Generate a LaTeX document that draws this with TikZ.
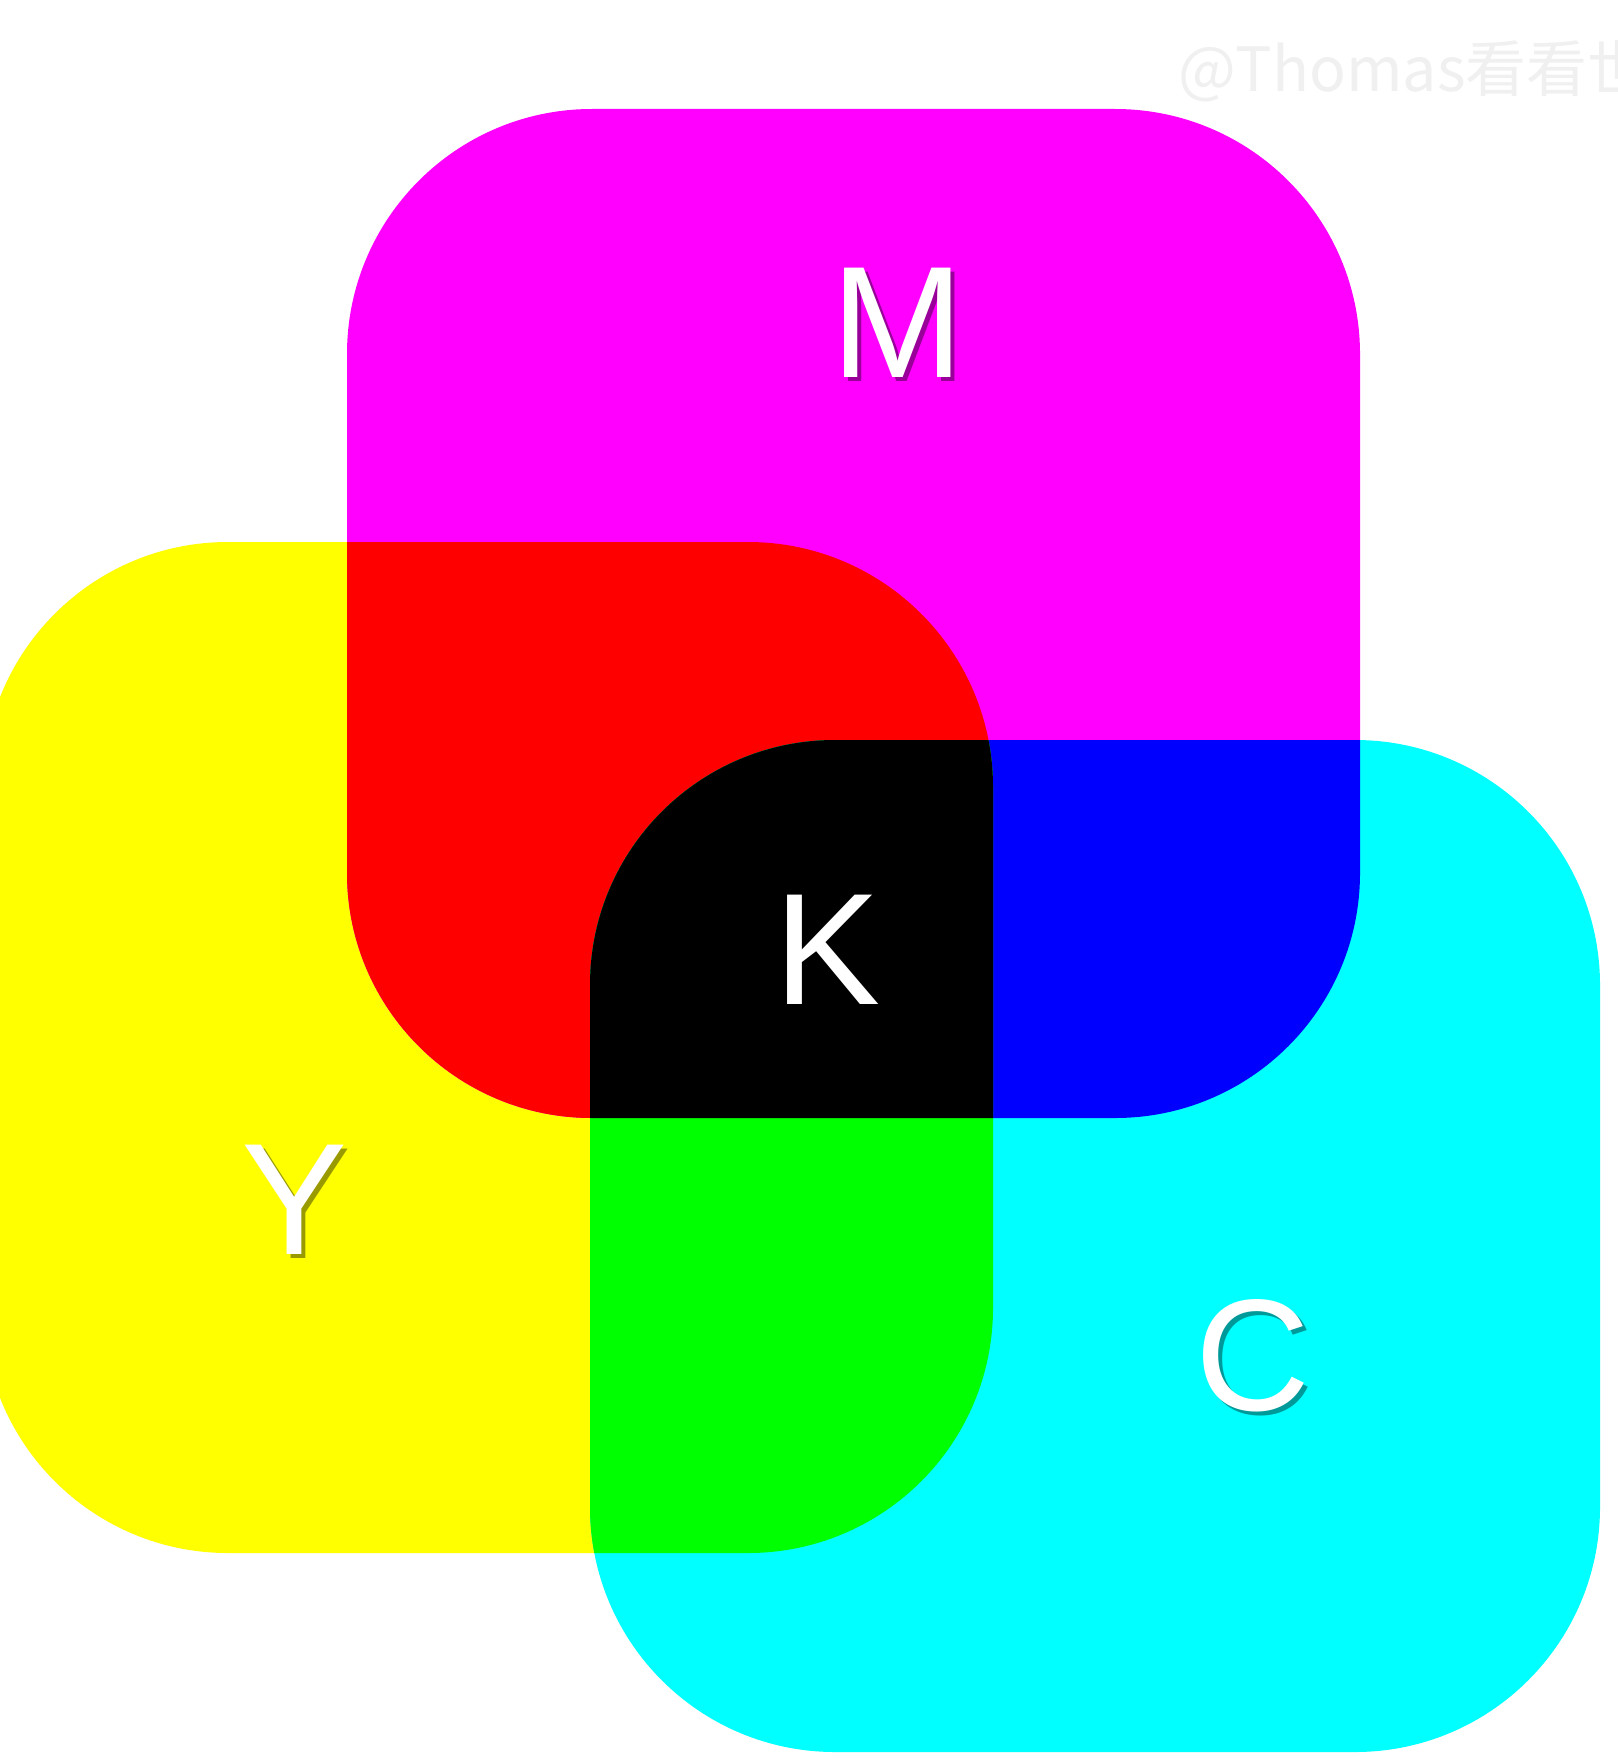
\documentclass[tikz,border=0pt]{standalone}
\usepackage{fontspec}
\setmainfont{Liberation Sans}
\newfontfamily\wmfont{Noto Sans CJK SC}
\definecolor{cmM}{RGB}{255,0,255}
\definecolor{cmY}{RGB}{255,255,0}
\definecolor{cmC}{RGB}{0,255,255}
\definecolor{cmR}{RGB}{255,0,0}
\definecolor{cmG}{RGB}{0,255,0}
\definecolor{cmB}{RGB}{0,0,255}
\newcommand\pathM{(347,109) rectangle (1360,1118)}
\newcommand\pathY{(-17,542) rectangle (993,1553)}
\newcommand\pathC{(590,740) rectangle (1600,1752)}
\tikzset{
  sq/.style={rounded corners=245pt},
  lbl/.style={inner sep=0pt, text=white, font=\fontsize{159}{160}\selectfont},
  shd/.style={inner sep=0pt, text=black, opacity=0.4, font=\fontsize{159}{160}\selectfont},
}
\begin{document}
\begin{tikzpicture}[x=1pt,y=-1pt]
\useasboundingbox (0,0) rectangle (1617,1758);
\clip (0,0) rectangle (1617,1758);
\fill[white] (0,0) rectangle (1617,1758);
% watermark
\node[anchor=base west, inner sep=0pt, text=black!6, font=\wmfont\fontsize{61}{62}\selectfont] (wm) at (1178,92) {@Thomas看看世界};
% base squares
\fill[cmY,sq] \pathY;
\fill[cmM,sq] \pathM;
\fill[cmC,sq] \pathC;
% overlaps
\begin{scope}
  \clip[sq] \pathY;
  \fill[cmR,sq] \pathM;
\end{scope}
\begin{scope}
  \clip[sq] \pathM;
  \fill[cmB,sq] \pathC;
\end{scope}
\begin{scope}
  \clip[sq] \pathY;
  \fill[cmG,sq] \pathC;
\end{scope}
\begin{scope}
  \clip[sq] \pathY;
  \clip[sq] \pathM;
  \fill[black,sq] \pathC;
\end{scope}
% labels with soft shadows
\node[shd] (Ms) at (902,327) {M};
\node[lbl] (M) at (898,323) {M};
\node[shd] (Ys) at (299,1204) {Y};
\node[lbl] (Y) at (295,1200) {Y};
\node[shd] (Cs) at (1257,1360) {C};
\node[lbl] (C) at (1253,1356) {C};
\node[lbl] (K) at (828,950) {K};
\end{tikzpicture}
\end{document}
